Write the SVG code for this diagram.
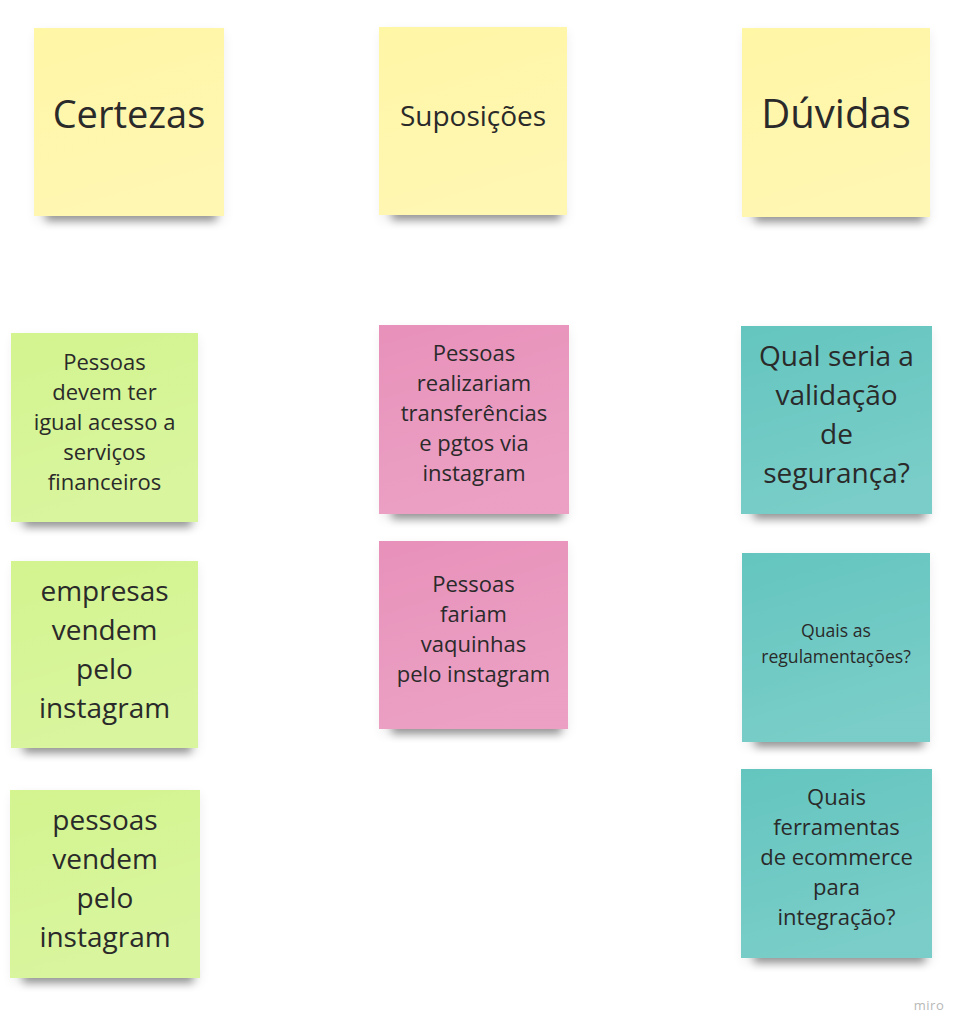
<svg xmlns="http://www.w3.org/2000/svg" width="967" height="1033" viewBox="0 0 967 1033">
<defs>
<style>
.t{font-family:"Open Sans","Noto Sans","Liberation Sans",sans-serif;fill:#2a2a2a;text-anchor:middle}
.yel{fill:#fff6a6}
.grn{fill:#d3f48f}
.pnk{fill:#e891ba}
.tea{fill:#64c5bf}
.sh{fill:#000;opacity:.38;filter:url(#blur)}
.sh2{fill:#000;opacity:.07;filter:url(#blur2)}
.gl{fill:url(#glow)}
</style>
<filter id="blur" x="-20%" y="-100%" width="140%" height="300%"><feGaussianBlur stdDeviation="4"/></filter>
<filter id="blur2" x="-20%" y="-20%" width="140%" height="140%"><feGaussianBlur stdDeviation="6"/></filter>
<linearGradient id="glow" x1="0" y1="0" x2="0.3" y2="1">
<stop offset="0" stop-color="#fff" stop-opacity="0"/>
<stop offset="1" stop-color="#fff" stop-opacity="0.14"/>
</linearGradient>
</defs>

<g id="certezas">
<rect class="sh2" x="36" y="32" width="188" height="190"/>
<rect class="sh" x="46" y="207" width="170" height="14"/>
<rect class="yel" x="34" y="28" width="190" height="188"/>
<rect class="gl" x="34" y="28" width="190" height="188"/>
<text class="t" x="129" y="128" font-size="38">Certezas</text>
</g>

<g id="suposicoes">
<rect class="sh2" x="381" y="31" width="186" height="190"/>
<rect class="sh" x="392" y="206" width="168" height="14"/>
<rect class="yel" x="379" y="27" width="188" height="188"/>
<rect class="gl" x="379" y="27" width="188" height="188"/>
<text class="t" x="473" y="126" font-size="28">Suposições</text>
</g>

<g id="duvidas">
<rect class="sh2" x="744" y="32" width="186" height="190"/>
<rect class="sh" x="755" y="208" width="168" height="14"/>
<rect class="yel" x="742" y="28" width="188" height="189"/>
<rect class="gl" x="742" y="28" width="188" height="189"/>
<text class="t" x="836" y="128" font-size="40">Dúvidas</text>
</g>

<g id="green1">
<rect class="sh2" x="13" y="337" width="185" height="190"/>
<rect class="sh" x="24" y="513" width="167" height="14"/>
<rect class="grn" x="11" y="333" width="187" height="189"/>
<rect class="gl" x="11" y="333" width="187" height="189"/>
<text class="t" font-size="22"><tspan x="104.5" y="370">Pessoas</tspan><tspan x="104.5" y="400">devem ter</tspan><tspan x="104.5" y="430">igual acesso a</tspan><tspan x="104.5" y="460">serviços</tspan><tspan x="104.5" y="490">financeiros</tspan></text>
</g>

<g id="green2">
<rect class="sh2" x="13" y="565" width="185" height="188"/>
<rect class="sh" x="24" y="739" width="167" height="14"/>
<rect class="grn" x="11" y="561" width="187" height="187"/>
<rect class="gl" x="11" y="561" width="187" height="187"/>
<text class="t" font-size="28"><tspan x="104.5" y="601">empresas</tspan><tspan x="104.5" y="640">vendem</tspan><tspan x="104.5" y="679">pelo</tspan><tspan x="104.5" y="718">instagram</tspan></text>
</g>

<g id="green3">
<rect class="sh2" x="12" y="794" width="188" height="189"/>
<rect class="sh" x="23" y="969" width="170" height="14"/>
<rect class="grn" x="10" y="790" width="190" height="188"/>
<rect class="gl" x="10" y="790" width="190" height="188"/>
<text class="t" font-size="28"><tspan x="105" y="830">pessoas</tspan><tspan x="105" y="869">vendem</tspan><tspan x="105" y="908">pelo</tspan><tspan x="105" y="947">instagram</tspan></text>
</g>

<g id="pink1">
<rect class="sh2" x="381" y="329" width="188" height="190"/>
<rect class="sh" x="392" y="505" width="170" height="14"/>
<rect class="pnk" x="379" y="325" width="190" height="189"/>
<rect class="gl" x="379" y="325" width="190" height="189"/>
<text class="t" font-size="22"><tspan x="474" y="361">Pessoas</tspan><tspan x="474" y="391">realizariam</tspan><tspan x="474" y="421">transferências</tspan><tspan x="474" y="451">e pgtos via</tspan><tspan x="474" y="481">instagram</tspan></text>
</g>

<g id="pink2">
<rect class="sh2" x="381" y="545" width="187" height="189"/>
<rect class="sh" x="392" y="720" width="169" height="14"/>
<rect class="pnk" x="379" y="541" width="189" height="188"/>
<rect class="gl" x="379" y="541" width="189" height="188"/>
<text class="t" font-size="22"><tspan x="473.5" y="592">Pessoas</tspan><tspan x="473.5" y="622">fariam</tspan><tspan x="473.5" y="652">vaquinhas</tspan><tspan x="473.5" y="682">pelo instagram</tspan></text>
</g>

<g id="teal1">
<rect class="sh2" x="743" y="330" width="189" height="189"/>
<rect class="sh" x="754" y="505" width="171" height="14"/>
<rect class="tea" x="741" y="326" width="191" height="188"/>
<rect class="gl" x="741" y="326" width="191" height="188"/>
<text class="t" font-size="28"><tspan x="836.5" y="366">Qual seria a</tspan><tspan x="836.5" y="405">validação</tspan><tspan x="836.5" y="444">de</tspan><tspan x="836.5" y="483">segurança?</tspan></text>
</g>

<g id="teal2">
<rect class="sh2" x="744" y="557" width="186" height="190"/>
<rect class="sh" x="755" y="733" width="168" height="14"/>
<rect class="tea" x="742" y="553" width="188" height="189"/>
<rect class="gl" x="742" y="553" width="188" height="189"/>
<text class="t" font-size="17.6"><tspan x="836" y="637">Quais as</tspan><tspan x="836" y="663">regulamentações?</tspan></text>
</g>

<g id="teal3">
<rect class="sh2" x="743" y="773" width="189" height="190"/>
<rect class="sh" x="754" y="949" width="171" height="14"/>
<rect class="tea" x="741" y="769" width="191" height="189"/>
<rect class="gl" x="741" y="769" width="191" height="189"/>
<text class="t" font-size="22"><tspan x="836.5" y="805">Quais</tspan><tspan x="836.5" y="835">ferramentas</tspan><tspan x="836.5" y="865">de ecommerce</tspan><tspan x="836.5" y="895">para</tspan><tspan x="836.5" y="925">integração?</tspan></text>
</g>

<g id="connectors"></g>

<text x="929" y="1010" font-family="'Open Sans','Liberation Sans',sans-serif" font-size="13" fill="#b8b8b8" text-anchor="middle" letter-spacing="0.5">miro</text>
</svg>
